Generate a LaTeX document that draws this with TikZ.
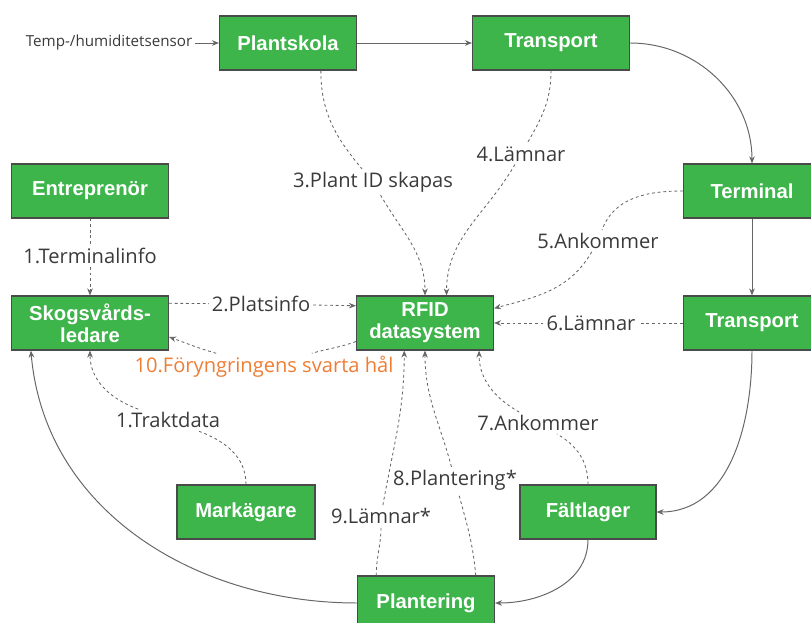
\documentclass[tikz,border=0pt]{standalone}
\usepackage{fontspec}
\setmainfont{Open Sans}
\newfontfamily\boxfont{Liberation Sans}
\usepackage{tikz}
\usetikzlibrary{arrows.meta}

\definecolor{boxgreen}{HTML}{3DB54A}
\definecolor{boxline}{HTML}{4A4A4A}
\definecolor{linkgray}{HTML}{666666}
\definecolor{lbltext}{HTML}{3A3A3A}
\definecolor{holeorange}{HTML}{EE7D33}

\tikzset{
  box/.style={draw=boxline, line width=0.8pt, fill=boxgreen, text=white,
    minimum width=3.425cm, minimum height=1.35cm, inner sep=0pt, align=center,
    font=\boxfont\bfseries\fontsize{14.4}{15.8}\selectfont},
  flow/.style={draw=linkgray, line width=0.7pt, -{Stealth[length=5pt,width=4pt]}},
  info/.style={draw=linkgray, line width=0.6pt, dash pattern=on 2pt off 2pt,
    -{Stealth[length=5pt,width=4pt]}},
  lbl/.style={text=lbltext, inner sep=2pt, font=\fontsize{14.3}{16}\selectfont},
}

\begin{document}
\begin{tikzpicture}[x=0.025cm, y=0.025cm]
        \useasboundingbox (0,0) rectangle (811,-623);

        \node[box] (plantskola) at (288,-43) {Plantskola};
        \node[box, minimum width=3.925cm] (transA) at (551,-43) {Transport};
        \node[box] (terminal) at (752,-191) {Terminal};
        \node[box, minimum width=3.925cm] (entrep) at (90,-191) {Entreprenör};
        \node[box, minimum width=3.925cm] (skog) at (90,-323) {Skogsvårds-\\ledare};
        \node[box] (rfid) at (425,-323) {RFID\\datasystem};
        \node[box] (transB) at (752,-323) {Transport};
        \node[box, minimum width=3.45cm] (markagare) at (246,-512) {Markägare};
        \node[box, minimum width=3.4cm] (faltlager) at (588,-512) {Fältlager};
        \node[box] (plantering) at (426,-603) {Plantering};

        \node[lbl, font=\fontsize{10.8}{12}\selectfont] (sensor) at (109,-43) {Temp-/humiditetsensor};
        \node[lbl] (l1t) at (90,-256) {1.Terminalinfo};
        \node[lbl] (l2) at (261,-304) {2.Platsinfo};
        \node[lbl] (l3) at (373,-182) {3.Plant ID skapas};
        \node[lbl] (l4) at (521,-154) {4.Lämnar};
        \node[lbl] (l5) at (598,-241) {5.Ankommer};
        \node[lbl] (l6) at (591,-323) {6.Lämnar};
        \node[lbl] (l7) at (538,-423) {7.Ankommer};
        \node[lbl] (l8) at (455,-480) {8.Plantering*};
        \node[lbl] (l9) at (381,-516) {9.Lämnar*};
        \node[lbl, text=holeorange] (l10) at (264,-367) {10.Föryngringens svarta hål};
        \node[lbl] (l1m) at (168,-420) {1.Traktdata};

        \draw[flow] (sensor) -- (plantskola);
        \draw[flow] (plantskola) -- (transA);
        \draw[flow] (transA.east) to[out=0, in=90] (terminal.north);
        \draw[flow] (terminal) -- (transB);
        \draw[flow] (transB.south) to[out=-90, in=0] (faltlager.east);
        \draw[flow] (faltlager.south) to[out=-90, in=0] (plantering.east);
        \draw[flow] (plantering.west) to[out=180, in=-85] (skog.-155);

        \draw[info] (entrep) -- (l1t) (l1t) -- (skog);
        \draw[info] (skog.14) -- (l2) (l2) -- (rfid.166);
        \draw[info] (plantskola.-40) to[out=-90, in=130] (l3) (l3) to[out=-60, in=90] (rfid.north);
        \draw[info] (transA.south) to[out=-90, in=60] (l4) (l4) to[out=-120, in=90] (rfid.52);
        \draw[info] (terminal.west) to[out=180, in=70] (l5) (l5) to[out=-120, in=15] (rfid.12);
        \draw[info] (transB) -- (l6) (l6) -- (rfid);
        \draw[info] (faltlager.north) to[out=90, in=-30] (l7) (l7) to[out=150, in=-90] (rfid.-27);
        \draw[info] (plantering.29) to[out=95, in=-75] (l8) (l8) to[out=105, in=-90] (rfid.south);
        \draw[info] (plantering.151) to[out=90, in=-90] (l9) (l9) to[out=80, in=-90] (rfid.-127);
        \draw[info] (rfid.195) to[out=200, in=16] (l10.16) (l10.164) to[out=164, in=-20] (skog.-10);
        \draw[info] (markagare.north) to[out=90, in=-20] (l1m) (l1m) to[out=160, in=-90] (skog.south);
    \end{tikzpicture}
\end{document}
